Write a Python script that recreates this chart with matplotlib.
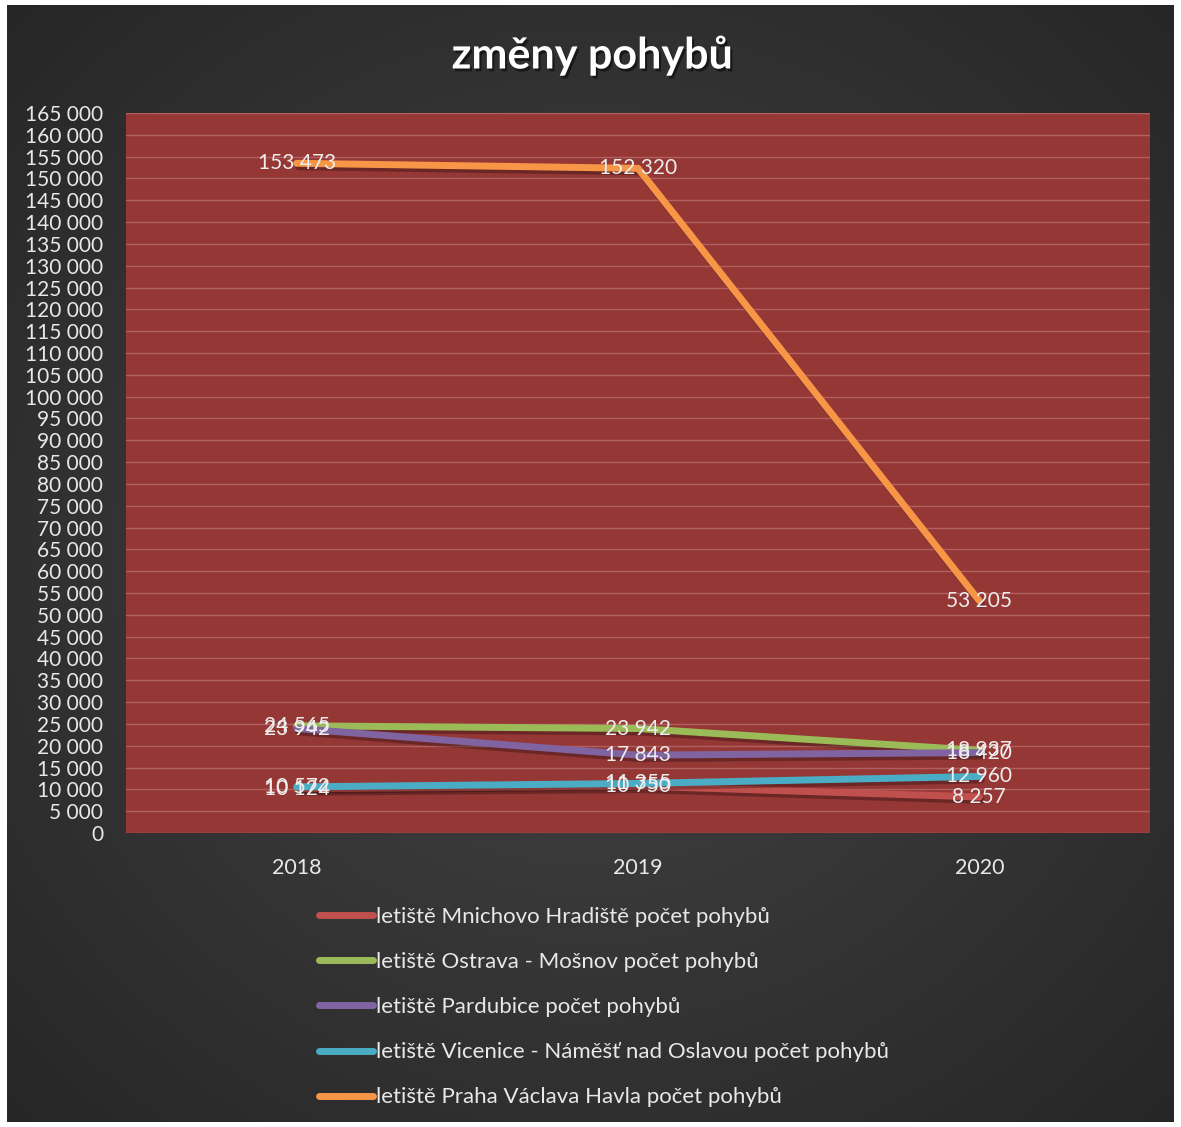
import numpy as np
import matplotlib
matplotlib.use("Agg")
import matplotlib.pyplot as plt
import matplotlib.patheffects as pe

plt.rcParams['font.family'] = ['Lato', 'DejaVu Sans']

years = ["2018", "2019", "2020"]
series_names = [
    "letiště Mnichovo Hradiště počet pohybů",
    "letiště Ostrava - Mošnov počet pohybů",
    "letiště Pardubice počet pohybů",
    "letiště Vicenice - Náměšť nad Oslavou počet pohybů",
    "letiště Praha Václava Havla počet pohybů",
]
mnichovo = [10124, 10750, 8257]
ostrava = [24565, 23942, 18937]
pardubice = [23942, 17843, 18420]
vicenice = [10572, 11355, 12960]
praha = [153473, 152320, 53205]
colors = ["#C0504D", "#9BBB59", "#8064A2", "#4BACC6", "#F79646"]
yticks = list(range(0, 165001, 5000))

W, H = 1181, 1127
fig = plt.figure(figsize=(W / 100, H / 100), dpi=100)
fig.patch.set_facecolor("white")

# gradient background
bg = fig.add_axes([7 / W, 5 / H, (W - 14) / W, (H - 10) / H])
yy, xx = np.mgrid[0:1:300j, 0:1:300j]
r = np.sqrt((xx - 0.5) ** 2 + ((yy - 0.5)) ** 2) / 0.707
img = 0.27 - 0.12 * r
bg.imshow(np.dstack([img, img, img]), extent=[0, 1, 0, 1], aspect="auto", interpolation="bilinear")
bg.set_axis_off()

x0, x1, y0, y1 = 126, 1150, 113, 833
ax = fig.add_axes([x0 / W, 1 - y1 / H, (x1 - x0) / W, (y1 - y0) / H])
ax.set_facecolor("#953735")
ax.set_xlim(-0.5, 2.5)
ax.set_ylim(0, 165000)
for s in ax.spines.values():
    s.set_visible(False)
ax.set_yticks(yticks)
ax.set_yticklabels([f"{v:,}".replace(",", " ") for v in yticks])
ax.set_xticks(range(3))
ax.set_xticklabels(years)
ax.tick_params(axis="y", length=0, labelsize=15, colors="#E8E8E8", pad=16.5)
ax.tick_params(axis="x", length=0, labelsize=15.5, colors="#E8E8E8", pad=18)
ax.grid(axis="y", color="#B0605E", linewidth=1)
ax.set_axisbelow(True)

data = [mnichovo, ostrava, pardubice, vicenice, praha]
xs = np.arange(3)
handles = []
for vals, c, name in zip(data, colors, series_names):
    ln, = ax.plot(xs, vals, color=c, linewidth=5, solid_capstyle="round",
                  path_effects=[pe.SimpleLineShadow(offset=(1.5, -2.5), shadow_color="black", alpha=0.28),
                                pe.Normal()], label=name, zorder=3)
    handles.append(ln)
for vals in data:
    for xi, v in zip(xs, vals):
        ax.text(xi, v, f"{v:,}".replace(",", " "), ha="center", va="center",
                color="#EDEDED", fontsize=15, zorder=5)

leg = fig.legend(handles=handles, labels=series_names, loc="upper left",
                 bbox_to_anchor=(299 / W, 1 - 887 / H), frameon=False,
                 fontsize=16, labelcolor="#E8E8E8", handlelength=2.45,
                 handletextpad=0.12, labelspacing=1.13)
for h in leg.get_lines():
    h.set_linewidth(5)
    h.set_path_effects([])

fig.text(592 / W, 1 - 55 / H, "změny pohybů", ha="center", va="center",
         fontsize=31, fontweight="bold", color="white",
         path_effects=[pe.withSimplePatchShadow(offset=(1.5, -2), shadow_rgbFace="black", alpha=0.5)])

fig.savefig("out.png", dpi=100, facecolor="white")
